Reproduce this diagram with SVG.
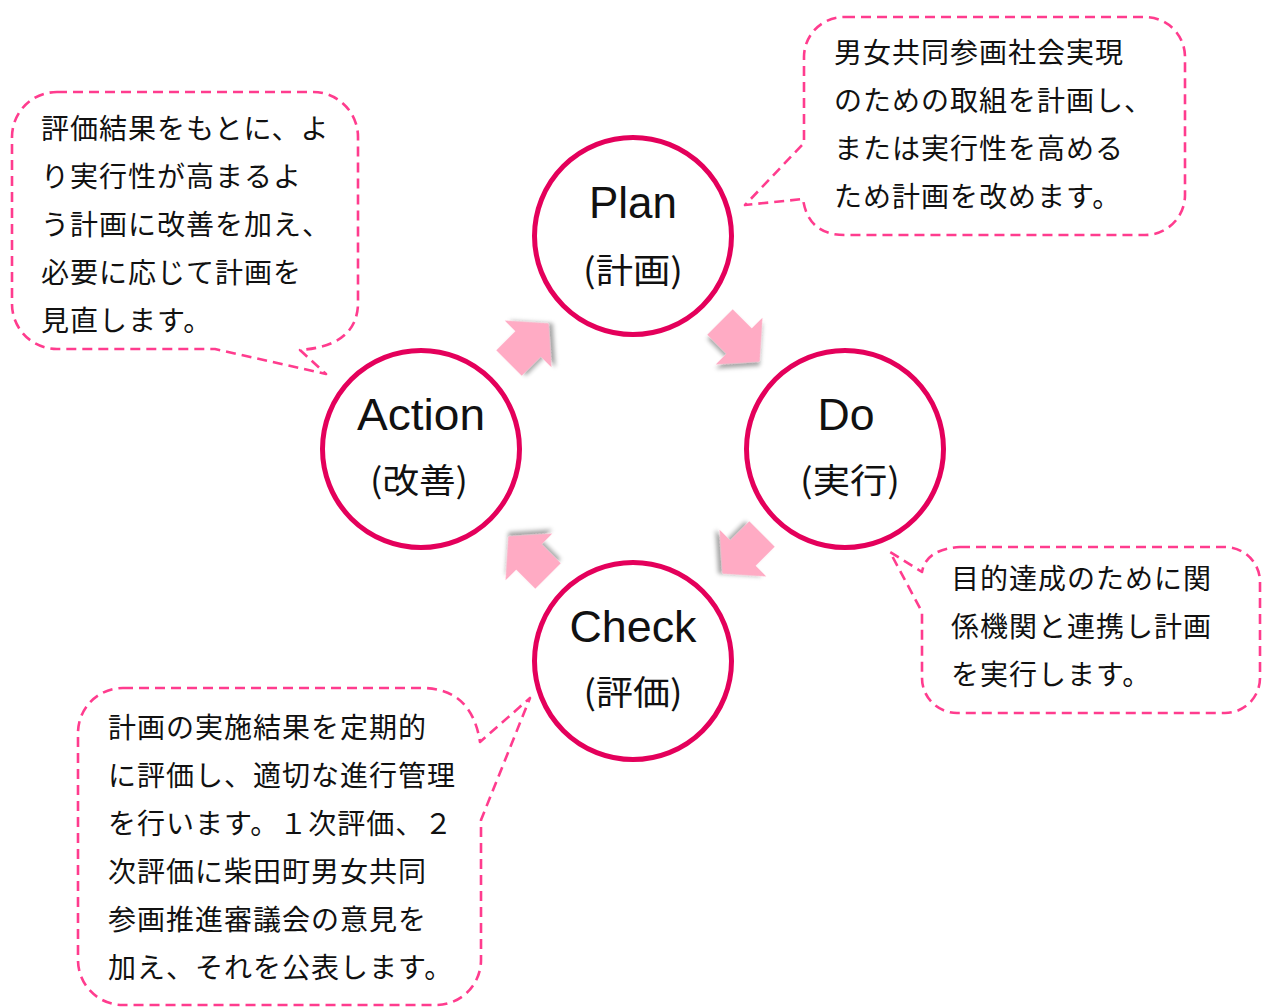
<svg xmlns="http://www.w3.org/2000/svg" width="1266" height="1007" viewBox="0 0 1266 1007">
<defs>
<style>
.cyc{fill:#fff;stroke:#E4005B;stroke-width:5}
.call{fill:none;stroke:#FF3C8E;stroke-width:2.6;stroke-dasharray:10 6;stroke-linejoin:round}
.en{font-family:"Liberation Sans",Arial,sans-serif;font-size:44px;fill:#111;text-anchor:middle}
.jp{font-family:"Noto Sans CJK JP","Noto Sans",sans-serif;font-size:34px;fill:#111;text-anchor:middle}
.tx{font-family:"Noto Sans CJK JP","Noto Sans",sans-serif;font-size:28px;letter-spacing:1px;fill:#111}
.arr{fill:#FFABC4;filter:url(#sh)}
</style>
<filter id="sh" x="-30%" y="-30%" width="160%" height="160%">
<feDropShadow dx="3" dy="3" stdDeviation="2" flood-color="#000" flood-opacity="0.35"/>
</filter>
<path id="arrow" d="M0,-18 L27,-18 L27,-33 L56,0 L27,33 L27,18 L0,18 Z"/>
</defs>
<rect width="1266" height="1007" fill="#fff"/>
<g id="connectors">
<use href="#arrow" class="arr" transform="translate(720,322) rotate(45)"/>
<use href="#arrow" class="arr" transform="translate(762,534) rotate(135)"/>
<use href="#arrow" class="arr" transform="translate(548,576) rotate(225)"/>
<use href="#arrow" class="arr" transform="translate(509,363) rotate(-45)"/>
</g>
<g id="plan">
<circle class="cyc" cx="633" cy="236" r="98.5"/>
<text class="en" x="633" y="218" textLength="88" lengthAdjust="spacingAndGlyphs">Plan</text>
<text class="jp" x="633" y="283" textLength="100" lengthAdjust="spacingAndGlyphs">(計画)</text>
</g>
<g id="do">
<circle class="cyc" cx="845" cy="449" r="98.5"/>
<text class="en" x="846" y="430" textLength="57" lengthAdjust="spacingAndGlyphs">Do</text>
<text class="jp" x="850" y="493" textLength="100" lengthAdjust="spacingAndGlyphs">(実行)</text>
</g>
<g id="check">
<circle class="cyc" cx="633" cy="661" r="98.5"/>
<text class="en" x="633" y="642" textLength="127" lengthAdjust="spacingAndGlyphs">Check</text>
<text class="jp" x="633" y="705" textLength="99" lengthAdjust="spacingAndGlyphs">(評価)</text>
</g>
<g id="action">
<circle class="cyc" cx="421" cy="449" r="98.5"/>
<text class="en" x="421" y="430" textLength="128" lengthAdjust="spacingAndGlyphs">Action</text>
<text class="jp" x="419" y="493" textLength="98" lengthAdjust="spacingAndGlyphs">(改善)</text>
</g>
<g id="plan-note">
<path class="call" d="M845,17 H1145 A40,40 0 0 1 1185,57 V195 A40,40 0 0 1 1145,235 H845 Q808,235 803,199 L745,205 L804,143 V57 A40,40 0 0 1 845,17 Z"/>
<text class="tx" x="834" y="63">男女共同参画社会実現</text>
<text class="tx" x="834" y="111">のための取組を計画し、</text>
<text class="tx" x="834" y="159">または実行性を高める</text>
<text class="tx" x="834" y="207">ため計画を改めます。</text>
</g>
<g id="action-note">
<path class="call" d="M57,92 H313 A45,45 0 0 1 358,137 V305 Q356,346 300,350 L326,374 L215,349 H57 A45,45 0 0 1 12,304 V137 A45,45 0 0 1 57,92 Z"/>
<text class="tx" x="41" y="139">評価結果をもとに、よ</text>
<text class="tx" x="41" y="187">り実行性が高まるよ</text>
<text class="tx" x="41" y="235">う計画に改善を加え、</text>
<text class="tx" x="41" y="283">必要に応じて計画を</text>
<text class="tx" x="41" y="331">見直します。</text>
</g>
<g id="do-note">
<path class="call" d="M960,547 H1225 A35,35 0 0 1 1260,582 V678 A35,35 0 0 1 1225,713 H957 A35,35 0 0 1 922,678 V612 L890,552 L922,572 Q926,549 960,547 Z"/>
<text class="tx" x="951" y="589">目的達成のために関</text>
<text class="tx" x="951" y="637">係機関と連携し計画</text>
<text class="tx" x="951" y="685">を実行します。</text>
</g>
<g id="check-note">
<path class="call" d="M123,688 H425 Q472,690 480,742 L530,698 L481,820 V960 A45,45 0 0 1 436,1005 H123 A45,45 0 0 1 78,960 V733 A45,45 0 0 1 123,688 Z"/>
<text class="tx" x="108" y="738">計画の実施結果を定期的</text>
<text class="tx" x="108" y="786">に評価し、適切な進行管理</text>
<text class="tx" x="108" y="834">を行います。１次評価、２</text>
<text class="tx" x="108" y="882">次評価に柴田町男女共同</text>
<text class="tx" x="108" y="930">参画推進審議会の意見を</text>
<text class="tx" x="108" y="978">加え、それを公表します。</text>
</g>
</svg>
